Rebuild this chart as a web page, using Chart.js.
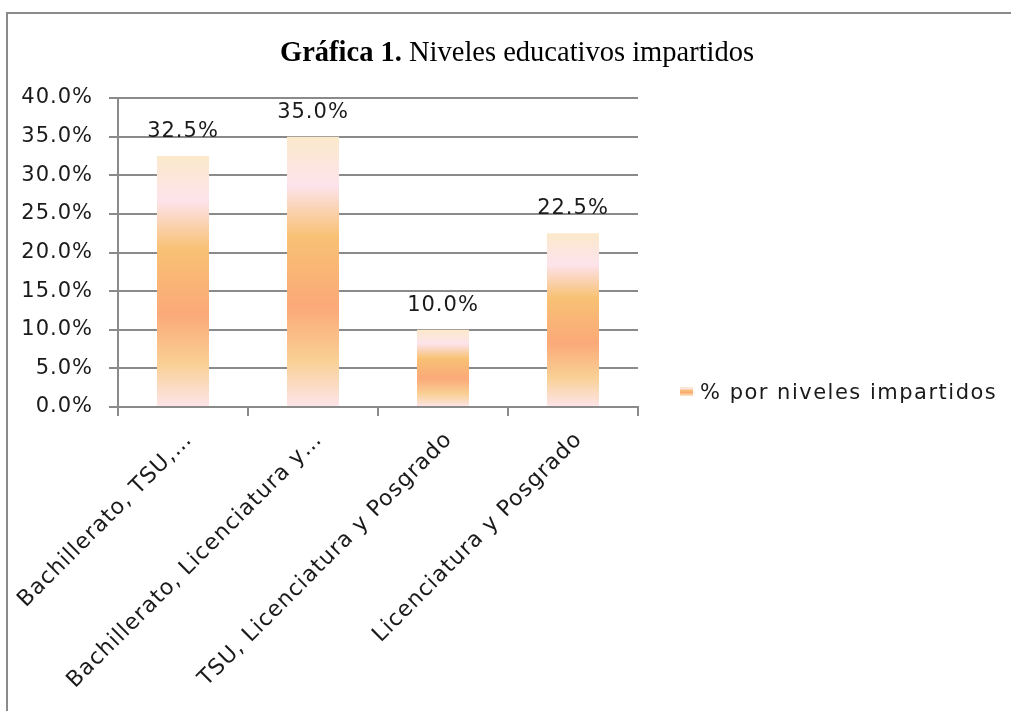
<!DOCTYPE html>
<html>
<head>
<meta charset="utf-8">
<script src="https://cdn.jsdelivr.net/npm/chart.js@4"></script>
<style>
  body { margin: 0; background: #fff; }
  #wrap { position: relative; width: 1011px; height: 711px; overflow: hidden; }
  #frame { position: absolute; left: 6px; top: 12px; width: 1100px; height: 800px;
           border-left: 2px solid #8a8a8a; border-top: 2px solid #8a8a8a; }
  #title { position: absolute; left: 280px; top: 38px; font: 28.5px/28px "Liberation Serif", serif;
           color: #000; white-space: nowrap; }
  #legend { position: absolute; left: 680px; top: 380px; font: 21px/24px "DejaVu Sans", sans-serif;
            letter-spacing: 1.5px; color: #1a1a1a; white-space: nowrap; }
  #legend .sw { display: inline-block; width: 13px; height: 9px; margin-right: 7px; vertical-align: 3px; }
  canvas { position: absolute; left: 0; top: 0; }
</style>
</head>
<body>
<div id="wrap">
  <div id="frame"></div>
  <canvas id="grafica" width="1011" height="711"></canvas>
  <div id="title"><b>Gráfica 1.</b> Niveles educativos impartidos</div>
  <div id="legend"></div>
</div>
<script>
const categories = [
  "Bachillerato, TSU,…",
  "Bachillerato, Licenciatura y…",
  "TSU, Licenciatura y Posgrado",
  "Licenciatura y Posgrado"
];
const porcentajes = [32.5, 35.0, 10.0, 22.5];
const serieNombre = "% por niveles impartidos";
const yMin = 0, yMax = 40, yStep = 5;

// colores del degradado de arriba a abajo
const gradStops = [
  [0.00, "#FBE9CB"],
  [0.18, "#FDE3EB"],
  [0.37, "#F8C174"],
  [0.63, "#FBA978"],
  [0.83, "#F9D095"],
  [1.00, "#FDE5EA"]
];

function barGradient(c) {
  const chart = c.chart;
  if (!chart.chartArea || c.raw == null) return "#F9B27F";
  const y = chart.scales.y;
  const top = y.getPixelForValue(c.raw);
  const bottom = y.getPixelForValue(0);
  const g = chart.ctx.createLinearGradient(0, top, 0, bottom);
  gradStops.forEach(s => g.addColorStop(s[0], s[1]));
  return g;
}

// letras un poco mas anchas, parecido a Century Gothic
const wideText = {
  id: "wideText",
  beforeUpdate(chart) { chart.ctx.letterSpacing = "1px"; },
  beforeDraw(chart) { chart.ctx.letterSpacing = "1px"; }
};

const valueLabels = {
  id: "valueLabels",
  afterDatasetsDraw(chart) {
    const ctx = chart.ctx;
    const meta = chart.getDatasetMeta(0);
    ctx.save();
    ctx.font = '21px "DejaVu Sans"';
    ctx.fillStyle = "#1a1a1a";
    ctx.textAlign = "center";
    ctx.textBaseline = "alphabetic";
    meta.data.forEach((bar, i) => {
      ctx.fillText(porcentajes[i].toFixed(1) + "%", bar.x, bar.y - 19);
    });
    ctx.restore();
  }
};

const gridColor = "#8a8a8a";
const ctx = document.getElementById("grafica");

new Chart(ctx, {
  type: "bar",
  data: {
    labels: categories,
    datasets: [{
      label: serieNombre,
      data: porcentajes,
      backgroundColor: barGradient,
      borderWidth: 0,
      categoryPercentage: 1,
      barPercentage: 0.4
    }]
  },
  options: {
    responsive: false,
    devicePixelRatio: 1,
    animation: false,
    layout: { padding: { left: 0, top: 98, right: 373, bottom: 0 } },
    plugins: {
      legend: { display: false },
      tooltip: { enabled: false }
    },
    scales: {
      x: {
        grid: { display: true, drawOnChartArea: false, drawTicks: true, tickLength: 9, color: gridColor, lineWidth: 2 },
        border: { display: true, color: gridColor, width: 2 },
        ticks: {
          autoSkip: false, minRotation: 45, maxRotation: 45, padding: 11, labelOffset: 6,
          color: "#1a1a1a", font: { family: "DejaVu Sans", size: 22 }
        },
        afterFit: s => { s.height = 711 - 407; s.paddingLeft = 0; s.paddingRight = 0; }
      },
      y: {
        min: yMin, max: yMax,
        grid: { color: gridColor, lineWidth: 2, tickLength: 9 },
        border: { display: true, color: gridColor, width: 2 },
        ticks: {
          stepSize: yStep, padding: 16, color: "#1a1a1a",
          font: { family: "DejaVu Sans", size: 21 },
          callback: v => v.toFixed(1) + "%"
        },
        afterFit: s => { s.width = 118; }
      }
    }
  },
  plugins: [wideText, valueLabels]
});

const lg = document.getElementById("legend");
const sw = document.createElement("span");
sw.className = "sw";
sw.style.background = "linear-gradient(" + gradStops.map(s => s[1] + " " + s[0] * 100 + "%").join(", ") + ")";
lg.appendChild(sw);
lg.appendChild(document.createTextNode(serieNombre));
</script>
</body>
</html>
